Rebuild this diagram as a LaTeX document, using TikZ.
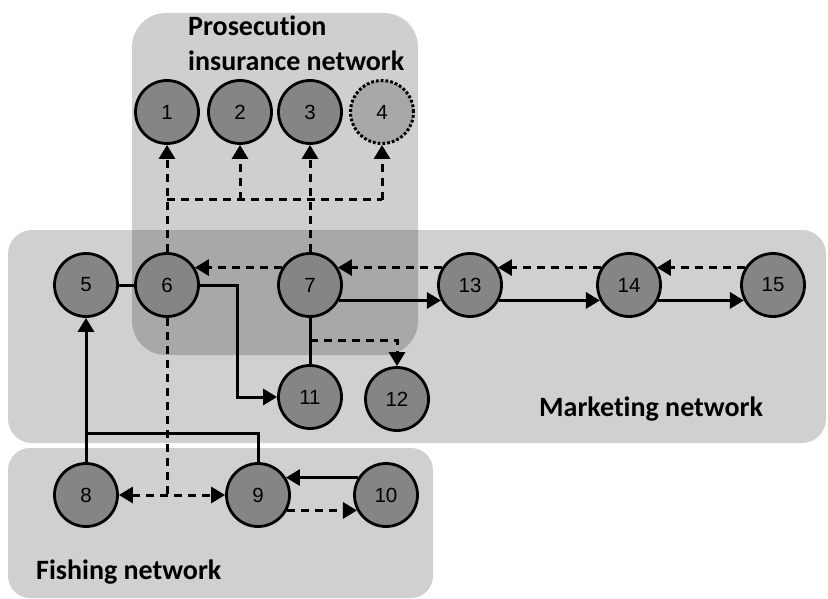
\documentclass[tikz,border=0pt]{standalone}
\usepackage{fontspec}
\setmainfont{Liberation Sans}
\newfontfamily\labfont[RawFeature={-liga;-clig;-calt;-dlig}]{Carlito}
\usetikzlibrary{arrows.meta}
\definecolor{boxgray}{HTML}{D0D0D0}
\definecolor{nodegray}{HTML}{858585}
\definecolor{lightnode}{HTML}{A8A8A8}
\begin{document}
\begin{tikzpicture}[x=1pt,y=-1pt,
  nd/.style={circle,draw=black,line width=2.8pt,fill=nodegray,minimum size=63pt,inner sep=0pt,font=\fontsize{20.5}{20.5}\selectfont},
  ndlight/.style={nd,fill=lightnode,dotted,line width=3pt},
  conn/.style={line width=3pt,-{Triangle[length=14pt,width=16pt]}},
  plain/.style={line width=3pt},
  dsh/.style={dash pattern=on 8pt off 6pt},
  lab/.style={font=\labfont\bfseries\fontsize{28}{30}\selectfont,inner sep=0pt,anchor=base west}]
\useasboundingbox (0,0) rectangle (828,599);
% regions
\fill[boxgray,rounded corners=24pt] (8,230) rectangle (826,443);
\fill[boxgray,rounded corners=22pt] (8,448) rectangle (433,598);
\fill[black,fill opacity=0.19,rounded corners=34pt] (132,13) rectangle (418,355);
% labels
\node[lab] (lp1) at (188,36) {Prosecution};
\node[lab] (lp2) at (188,71) {insurance network};
\node[lab] (lm) at (539,416) {Marketing network};
\node[lab] (lf) at (36,579) {Fishing network};
% nodes
\node[nd] (1) at (167,112) {1};
\node[nd] (2) at (240,112) {2};
\node[nd] (3) at (310,112) {3};
\node[ndlight] (4) at (382,112) {4};
\node[nd] (5) at (86,285) {5};
\node[nd] (6) at (167,285) {6};
\node[nd] (7) at (310,285) {7};
\node[nd] (13) at (470,285) {13};
\node[nd] (14) at (629,285) {14};
\node[nd] (15) at (773,285) {15};
\node[nd] (11) at (310,397) {11};
\node[nd] (12) at (397,399) {12};
\node[nd] (8) at (86,495) {8};
\node[nd] (9) at (258,495) {9};
\node[nd] (10) at (386,495) {10};
% junction coordinates
\coordinate (p6) at (167,200);
\coordinate (p2) at (240,200);
\coordinate (p4) at (382,200);
\coordinate (b12) at (310,340);
\coordinate (j) at (86,433);
\coordinate (d89) at (167,495);
% prosecution connectors
\draw[conn,dsh] (6.north) -- (1.south);
\draw[plain,dsh] (p6) -- (p4);
\draw[conn,dsh] (p2) -- (2.south);
\draw[conn,dsh] (p4) -- (4.south);
\draw[conn,dsh] (7.north) -- (3.south);
% marketing connectors
\draw[plain] (5.east) -- (6.west);
\draw[conn,dsh] (7.148) -- (6.32);
\draw[conn,dsh] (13.148) -- (7.32);
\draw[conn,dsh] (14.148) -- (13.32);
\draw[conn,dsh] (15.148) -- (14.32);
\draw[conn] (7.-28) -- (13.208);
\draw[conn] (13.-28) -- (14.208);
\draw[conn] (14.-28) -- (15.208);
\draw[conn] (6.east) -- ++(38,0) |- (11.west);
\draw[plain] (7.south) -- (11.north);
\draw[conn,dsh] (b12) -| (12.north);
% fishing connectors
\draw[plain,dsh] (6.south) -- (d89);
\draw[line width=3pt,dsh,{Triangle[length=14pt,width=16pt]}-{Triangle[length=14pt,width=16pt]}] (8.east) -- (9.west);
\draw[conn] (8.north) -- (5.south);
\draw[plain] (9.north) |- (j);
\draw[conn] (10.148) -- (9.32);
\draw[conn,dsh] (9.-28) -- (10.208);
\end{tikzpicture}
\end{document}
